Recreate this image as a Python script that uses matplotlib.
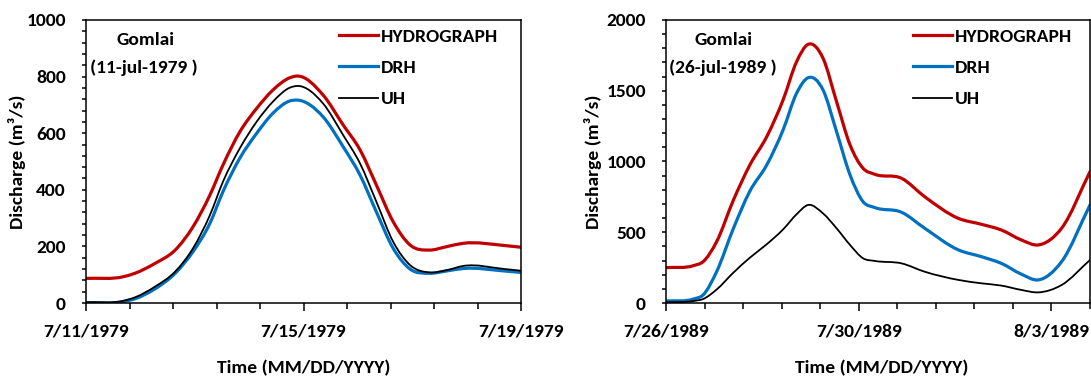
import matplotlib

matplotlib.use("Agg")
import matplotlib.pyplot as plt
import numpy as np
from matplotlib.lines import Line2D
from matplotlib.patches import PathPatch
from matplotlib.path import Path
from matplotlib.ticker import FixedLocator, MultipleLocator

plt.rcParams["font.family"] = ["Carlito", "DejaVu Sans"]
plt.rcParams["font.weight"] = "bold"

# Event of 11-jul-1979, time in days after 7/11/1979 00:00, discharge in m3/s
t_1979 = [0, 0.69, 0.9, 1.27, 1.64, 1.97, 2.28, 2.52, 2.83, 3.14, 3.44, 3.75,
          3.89, 4.36, 4.73, 5.04, 5.34, 5.65, 5.96, 6.32, 6.63, 6.94, 7.7, 8.0]
hydro_1979 = [87, 93, 105, 140, 187, 270, 382, 488, 605, 688, 753, 796,
              802, 735, 629, 541, 417, 287, 205, 187, 199, 211, 203, 197]
drh_1979 = [0, 5, 15, 50, 105, 182, 282, 394, 512, 600, 671, 714,
            717, 658, 552, 452, 322, 193, 120, 105, 113, 122, 113, 108]
uh_1979 = [3, 8, 20, 58, 111, 194, 311, 429, 547, 641, 712, 761,
           767, 705, 593, 493, 358, 216, 134, 108, 116, 131, 120, 114]
date_ticks_1979 = [0, 4, 8]
date_labels_1979 = ["7/11/1979", "7/15/1979", "7/19/1979"]

# Event of 26-jul-1989, time in days after 7/26/1989 00:00
t_1989 = [0, 0.57, 0.77, 1.05, 1.4, 1.74, 2.09, 2.43, 2.71, 2.95, 3.26, 3.54,
          3.82, 4.09, 4.34, 4.89, 5.37, 6.07, 6.55, 6.96, 7.38, 7.72, 8.21, 8.8]
hydro_1989 = [250, 264, 292, 433, 728, 975, 1175, 1435, 1705, 1828, 1729, 1423,
              1117, 952, 909, 881, 751, 598, 556, 516, 445, 410, 528, 928]
drh_1989 = [14, 28, 57, 221, 528, 790, 975, 1223, 1482, 1592, 1505, 1211,
            905, 716, 674, 641, 528, 375, 327, 280, 203, 163, 292, 693]
uh_1989 = [5, 14, 28, 95, 215, 320, 415, 520, 627, 693, 633, 528,
           410, 316, 297, 280, 221, 163, 139, 123, 92, 75, 127, 304]
date_ticks_1989 = [0, 4, 8]
date_labels_1989 = ["7/26/1989", "7/30/1989", "8/3/1989"]

SERIES = [
    ("HYDROGRAPH", "#C00000", 2.3),
    ("DRH", "#0070C0", 2.3),
    ("UH", "black", 1.3),
]
FS = 14


def smooth_path(x, y):
    """Smoothed line through every point (cubic Hermite as Bezier segments)."""
    x = np.asarray(x, float)
    y = np.asarray(y, float)
    h = np.diff(x)
    d = np.diff(y) / h
    m = np.empty(len(x))
    m[0], m[-1] = d[0], d[-1]
    # slope of the parabola through each point and its two neighbours
    m[1:-1] = (d[:-1] * h[1:] + d[1:] * h[:-1]) / (h[:-1] + h[1:])
    verts = [(x[0], y[0])]
    codes = [Path.MOVETO]
    for i in range(len(x) - 1):
        verts += [(x[i] + h[i] / 3, y[i] + m[i] * h[i] / 3),
                  (x[i + 1] - h[i] / 3, y[i + 1] - m[i + 1] * h[i] / 3),
                  (x[i + 1], y[i + 1])]
        codes += [Path.CURVE4] * 3
    return Path(verts, codes)


def draw_panel(ax, t, series, xmax, ymax, ymajor, yminor, ticks, labels,
               site, date, ylab_x, xlab_x):
    for (name, color, lw), values in zip(SERIES, series):
        ax.add_patch(PathPatch(smooth_path(t, values), fill=False,
                               edgecolor=color, linewidth=lw,
                               capstyle="round", joinstyle="round"))

    ax.set_xlim(0, xmax)
    ax.set_ylim(0, ymax)
    ax.xaxis.set_major_locator(FixedLocator(ticks))
    ax.set_xticklabels(labels)
    ax.xaxis.set_minor_locator(MultipleLocator(0.8))
    ax.yaxis.set_major_locator(MultipleLocator(ymajor))
    ax.yaxis.set_minor_locator(MultipleLocator(yminor))
    ax.tick_params(axis="x", which="major", length=5.5, width=1.1,
                   pad=9, labelsize=FS)
    ax.tick_params(axis="x", which="minor", length=4.5, width=1.1)
    ax.tick_params(axis="y", which="both", length=3, width=1.1,
                   pad=11.5, labelsize=FS)
    for spine in ax.spines.values():
        spine.set_linewidth(1.1)

    ax.set_ylabel("Discharge (m³/s)", fontsize=FS, fontweight="bold")
    ax.yaxis.set_label_coords(ylab_x, 0.5)
    ax.set_xlabel("Time (MM/DD/YYYY)", fontsize=FS, fontweight="bold")
    ax.xaxis.set_label_coords(xlab_x, -0.2)

    ax.text(0.136, 0.929, site, transform=ax.transAxes, ha="center",
            va="center", fontsize=FS, fontweight="bold")
    ax.text(0.133, 0.832, date, transform=ax.transAxes, ha="center",
            va="center", fontsize=FS, fontweight="bold")

    handles = [Line2D([], [], color=c, linewidth=lw) for _, c, lw in SERIES]
    ax.legend(handles, [s[0] for s in SERIES], loc="upper left",
              bbox_to_anchor=(0.582, 0.972), frameon=False, fontsize=FS,
              handlelength=2.0, handletextpad=0.15, labelspacing=0.76,
              borderpad=0, borderaxespad=0)


fig = plt.figure(figsize=(10.91, 3.76), dpi=100)
ax1 = fig.add_axes([86 / 1091, 73 / 376, 435 / 1091, 283 / 376])
ax2 = fig.add_axes([666 / 1091, 73 / 376, 424 / 1091, 283 / 376])

draw_panel(ax1, t_1979, [hydro_1979, drh_1979, uh_1979], 8, 1000, 200, 40,
           date_ticks_1979, date_labels_1979, "Gomlai", "(11-jul-1979 )",
           -0.138, 0.5)
draw_panel(ax2, t_1989, [hydro_1989, drh_1989, uh_1989], 8.8, 2000, 500, 100,
           date_ticks_1989, date_labels_1989, "Gomlai", "(26-jul-1989 )",
           -0.151, 0.509)

fig.savefig("out.png", dpi=100)
